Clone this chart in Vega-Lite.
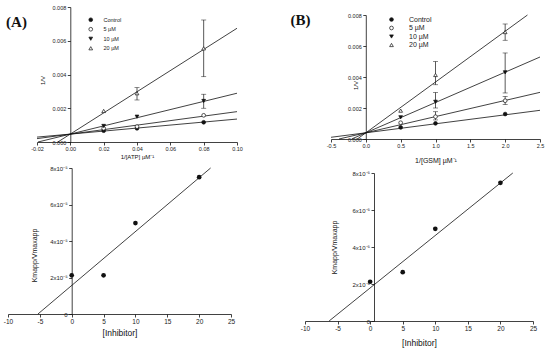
{
  "$schema": "https://vega.github.io/schema/vega-lite/v6.json",
  "width": 550,
  "height": 350,
  "padding": 0,
  "autosize": {"type": "none"},
  "background": "white",
  "config": {
    "view": {"stroke": null},
    "axis": {"grid": false, "domainColor": "#111", "tickColor": "#111", "domainWidth": 0.8, "tickWidth": 0.8, "tickSize": 3, "labelFont": "Liberation Sans", "titleFont": "Liberation Sans", "labelColor": "#222", "titleColor": "#111", "titleFontWeight": "normal", "labelPadding": 1.5, "labelFlush": false, "labelOverlap": false, "labelBound": false},
    "legend": {"labelFont": "Liberation Sans", "labelColor": "#222", "padding": 0}
  },
  "datasets": {
    "atp_points": [
      {"group": "Control", "x": 0.02, "y": 0.00067}, {"group": "Control", "x": 0.04, "y": 0.00081}, {"group": "Control", "x": 0.08, "y": 0.00117},
      {"group": "5 µM", "x": 0.02, "y": 0.00081}, {"group": "5 µM", "x": 0.04, "y": 0.00091}, {"group": "5 µM", "x": 0.08, "y": 0.00158},
      {"group": "10 µM", "x": 0.02, "y": 0.00095}, {"group": "10 µM", "x": 0.04, "y": 0.0015}, {"group": "10 µM", "x": 0.08, "y": 0.00243},
      {"group": "20 µM", "x": 0.02, "y": 0.00184}, {"group": "20 µM", "x": 0.04, "y": 0.00289}, {"group": "20 µM", "x": 0.08, "y": 0.00555}
    ],
    "atp_lines": [
      {"group": "Control", "x": -0.02, "y": 0.00029}, {"group": "Control", "x": 0.10, "y": 0.00136},
      {"group": "5 µM", "x": -0.02, "y": 0.0002}, {"group": "5 µM", "x": 0.10, "y": 0.0018},
      {"group": "10 µM", "x": -0.0194, "y": 0}, {"group": "10 µM", "x": 0.10, "y": 0.00289},
      {"group": "20 µM", "x": -0.0075, "y": 0}, {"group": "20 µM", "x": 0.10, "y": 0.00674}
    ],
    "atp_err": [
      {"group": "20 µM", "x": 0.04, "lo": 0.00249, "hi": 0.00322},
      {"group": "20 µM", "x": 0.08, "lo": 0.00387, "hi": 0.00723},
      {"group": "10 µM", "x": 0.08, "lo": 0.0020, "hi": 0.00283}
    ],
    "gsm_points": [
      {"group": "Control", "x": 0.5, "y": 0.00075}, {"group": "Control", "x": 1.0, "y": 0.00101}, {"group": "Control", "x": 2.0, "y": 0.00161},
      {"group": "5 µM", "x": 0.5, "y": 0.00105}, {"group": "5 µM", "x": 1.0, "y": 0.00144}, {"group": "5 µM", "x": 2.0, "y": 0.00247},
      {"group": "10 µM", "x": 0.5, "y": 0.0014}, {"group": "10 µM", "x": 1.0, "y": 0.0024}, {"group": "10 µM", "x": 2.0, "y": 0.0043},
      {"group": "20 µM", "x": 0.5, "y": 0.00183}, {"group": "20 µM", "x": 1.0, "y": 0.00413}, {"group": "20 µM", "x": 2.0, "y": 0.0069}
    ],
    "gsm_lines": [
      {"group": "Control", "x": -0.5, "y": 0.00011}, {"group": "Control", "x": 2.5, "y": 0.00185},
      {"group": "5 µM", "x": -0.385, "y": 0}, {"group": "5 µM", "x": 2.5, "y": 0.00301},
      {"group": "10 µM", "x": -0.204, "y": 0}, {"group": "10 µM", "x": 2.5, "y": 0.00529},
      {"group": "20 µM", "x": -0.122, "y": 0}, {"group": "20 µM", "x": 2.32, "y": 0.008}
    ],
    "gsm_err": [
      {"group": "20 µM", "x": 1.0, "lo": 0.0035, "hi": 0.0050},
      {"group": "10 µM", "x": 1.0, "lo": 0.0020, "hi": 0.0030},
      {"group": "5 µM", "x": 1.0, "lo": 0.00123, "hi": 0.00176},
      {"group": "20 µM", "x": 2.0, "lo": 0.00637, "hi": 0.00742},
      {"group": "10 µM", "x": 2.0, "lo": 0.00297, "hi": 0.00555},
      {"group": "5 µM", "x": 2.0, "lo": 0.00222, "hi": 0.00275}
    ],
    "inhA_points": [
      {"x": 0, "y": 2.12e-5}, {"x": 5, "y": 2.12e-5}, {"x": 10, "y": 4.98e-5}, {"x": 20, "y": 7.5e-5}
    ],
    "inhA_line": [
      {"x": -5.3, "y": 0}, {"x": 21.8, "y": 8e-5}
    ],
    "inhB_points": [
      {"x": 0, "y": 2.12e-5}, {"x": 5, "y": 2.64e-5}, {"x": 10, "y": 4.98e-5}, {"x": 20, "y": 7.47e-5}
    ],
    "inhB_line": [
      {"x": -6.3, "y": 0}, {"x": 21.9, "y": 8e-5}
    ]
  },
  "layer": [
    {
      "layer": [
        {
          "data": {"name": "atp_lines"},
          "mark": {"type": "line", "color": "#111", "strokeWidth": 0.8},
          "encoding": {
            "x": {"field": "x", "type": "quantitative", "title": "1/[ATP] µM⁻¹",
              "scale": {"domain": [-0.02, 0.10], "range": [37, 237], "nice": false, "zero": false},
              "axis": {"orient": "bottom", "offset": -208, "values": [-0.02, 0, 0.02, 0.04, 0.06, 0.08, 0.1], "labelExpr": "(datum.value < -1e-9 ? '-' : '') + format(abs(datum.value), '.2f')", "labelFontSize": 5.5, "titleFontSize": 6, "titlePadding": 1}},
            "y": {"field": "y", "type": "quantitative", "title": "1/V",
              "scale": {"domain": [0, 0.008], "range": [142, 7], "nice": false, "zero": false},
              "axis": {"orient": "left", "offset": -70.3, "values": [0, 0.002, 0.004, 0.006, 0.008], "format": ".3f", "labelFontSize": 5.5, "titleFontSize": 6, "titleBaseline": "middle", "titleX": -27.6, "titleY": 80}},
            "detail": {"field": "group"}
          }
        },
        {
          "data": {"name": "atp_err"},
          "mark": {"type": "rule", "color": "#111", "strokeWidth": 0.7},
          "encoding": {
            "x": {"field": "x", "type": "quantitative", "title": "1/[ATP] µM⁻¹"},
            "y": {"field": "lo", "type": "quantitative", "title": "1/V"},
            "y2": {"field": "hi"}
          }
        },
        {
          "data": {"name": "atp_err"},
          "mark": {"type": "tick", "orient": "horizontal", "color": "#111", "size": 5, "thickness": 0.7},
          "encoding": {
            "x": {"field": "x", "type": "quantitative", "title": "1/[ATP] µM⁻¹"},
            "y": {"field": "lo", "type": "quantitative", "title": "1/V"}
          }
        },
        {
          "data": {"name": "atp_err"},
          "mark": {"type": "tick", "orient": "horizontal", "color": "#111", "size": 5, "thickness": 0.7},
          "encoding": {
            "x": {"field": "x", "type": "quantitative", "title": "1/[ATP] µM⁻¹"},
            "y": {"field": "hi", "type": "quantitative", "title": "1/V"}
          }
        },
        {
          "data": {"name": "atp_points"},
          "mark": {"type": "point", "strokeWidth": 0.7, "size": 14, "opacity": 1},
          "encoding": {
            "x": {"field": "x", "type": "quantitative", "title": "1/[ATP] µM⁻¹"},
            "y": {"field": "y", "type": "quantitative", "title": "1/V"},
            "shape": {"field": "group", "type": "nominal",
              "scale": {"domain": ["Control", "5 µM", "10 µM", "20 µM"], "range": ["circle", "circle", "triangle-down", "triangle-up"]},
              "legend": {"orient": "none", "legendX": 88, "legendY": 17, "title": null, "labelFontSize": 5.5, "symbolSize": 14, "labelOffset": 10, "rowPadding": 1.5, "symbolStrokeWidth": 0.7, "labelColor": "#222"}},
            "fill": {"field": "group", "type": "nominal",
              "scale": {"domain": ["Control", "5 µM", "10 µM", "20 µM"], "range": ["#111", "white", "#111", "white"]},
              "legend": {"orient": "none", "legendX": 88, "legendY": 17, "title": null, "labelFontSize": 5.5, "symbolSize": 14, "labelOffset": 10, "rowPadding": 1.5, "symbolStrokeWidth": 0.7, "labelColor": "#222"}},
            "stroke": {"field": "group", "type": "nominal",
              "scale": {"domain": ["Control", "5 µM", "10 µM", "20 µM"], "range": ["#111", "#111", "#111", "#111"]},
              "legend": {"orient": "none", "legendX": 88, "legendY": 17, "title": null, "labelFontSize": 5.5, "symbolSize": 14, "labelOffset": 10, "rowPadding": 1.5, "symbolStrokeWidth": 0.7, "labelColor": "#222"}}
          }
        },
        {
          "data": {"values": [{"t": "(A)"}]},
          "mark": {"type": "text", "font": "Liberation Serif", "fontWeight": "bold", "fontSize": 15, "color": "#111", "align": "center", "baseline": "middle"},
          "encoding": {
            "x": {"datum": -0.0323, "type": "quantitative"},
            "y": {"datum": 0.00713, "type": "quantitative"},
            "text": {"field": "t"}
          }
        }
      ]
    },
    {
      "layer": [
        {
          "data": {"name": "gsm_lines"},
          "mark": {"type": "line", "color": "#111", "strokeWidth": 0.8},
          "encoding": {
            "x": {"field": "x", "type": "quantitative", "title": "1/[GSM] µM⁻¹",
              "scale": {"domain": [-0.5, 2.5], "range": [331, 540], "nice": false, "zero": false},
              "axis": {"orient": "bottom", "offset": -211, "values": [-0.5, 0, 0.5, 1, 1.5, 2, 2.5], "labelExpr": "(datum.value < -1e-9 ? '-' : '') + format(abs(datum.value), '.1f')", "labelFontSize": 5.5, "titleFontSize": 7, "titlePadding": 7}},
            "y": {"field": "y", "type": "quantitative", "title": "1/V",
              "scale": {"domain": [0, 0.008], "range": [139, 15], "nice": false, "zero": false},
              "axis": {"orient": "left", "offset": -365.8, "values": [0, 0.002, 0.004, 0.006, 0.008], "format": ".3f", "labelFontSize": 5.5, "titleFontSize": 6, "titleBaseline": "middle", "titleX": -10, "titleY": 85}},
            "detail": {"field": "group"}
          }
        },
        {
          "data": {"name": "gsm_err"},
          "mark": {"type": "rule", "color": "#111", "strokeWidth": 0.7},
          "encoding": {
            "x": {"field": "x", "type": "quantitative", "title": "1/[GSM] µM⁻¹"},
            "y": {"field": "lo", "type": "quantitative", "title": "1/V"},
            "y2": {"field": "hi"}
          }
        },
        {
          "data": {"name": "gsm_err"},
          "mark": {"type": "tick", "orient": "horizontal", "color": "#111", "size": 5, "thickness": 0.7},
          "encoding": {
            "x": {"field": "x", "type": "quantitative", "title": "1/[GSM] µM⁻¹"},
            "y": {"field": "lo", "type": "quantitative", "title": "1/V"}
          }
        },
        {
          "data": {"name": "gsm_err"},
          "mark": {"type": "tick", "orient": "horizontal", "color": "#111", "size": 5, "thickness": 0.7},
          "encoding": {
            "x": {"field": "x", "type": "quantitative", "title": "1/[GSM] µM⁻¹"},
            "y": {"field": "hi", "type": "quantitative", "title": "1/V"}
          }
        },
        {
          "data": {"name": "gsm_points"},
          "mark": {"type": "point", "strokeWidth": 0.7, "size": 14, "opacity": 1},
          "encoding": {
            "x": {"field": "x", "type": "quantitative", "title": "1/[GSM] µM⁻¹"},
            "y": {"field": "y", "type": "quantitative", "title": "1/V"},
            "shape": {"field": "group", "type": "nominal",
              "scale": {"domain": ["Control", "5 µM", "10 µM", "20 µM"], "range": ["circle", "circle", "triangle-down", "triangle-up"]},
              "legend": {"orient": "none", "legendX": 388, "legendY": 16, "title": null, "labelFontSize": 7, "symbolSize": 14, "labelOffset": 14, "rowPadding": 0.5, "symbolStrokeWidth": 0.7, "labelColor": "#222"}},
            "fill": {"field": "group", "type": "nominal",
              "scale": {"domain": ["Control", "5 µM", "10 µM", "20 µM"], "range": ["#111", "white", "#111", "white"]},
              "legend": {"orient": "none", "legendX": 388, "legendY": 16, "title": null, "labelFontSize": 7, "symbolSize": 14, "labelOffset": 14, "rowPadding": 0.5, "symbolStrokeWidth": 0.7, "labelColor": "#222"}},
            "stroke": {"field": "group", "type": "nominal",
              "scale": {"domain": ["Control", "5 µM", "10 µM", "20 µM"], "range": ["#111", "#111", "#111", "#111"]},
              "legend": {"orient": "none", "legendX": 388, "legendY": 16, "title": null, "labelFontSize": 7, "symbolSize": 14, "labelOffset": 14, "rowPadding": 0.5, "symbolStrokeWidth": 0.7, "labelColor": "#222"}}
          }
        },
        {
          "data": {"values": [{"t": "(B)"}]},
          "mark": {"type": "text", "font": "Liberation Serif", "fontWeight": "bold", "fontSize": 15, "color": "#111", "align": "center", "baseline": "middle"},
          "encoding": {
            "x": {"datum": -0.938, "type": "quantitative"},
            "y": {"datum": 0.00768, "type": "quantitative"},
            "text": {"field": "t"}
          }
        }
      ]
    },
    {
      "layer": [
        {
          "data": {"name": "inhA_line"},
          "mark": {"type": "line", "color": "#111", "strokeWidth": 0.8},
          "encoding": {
            "x": {"field": "x", "type": "quantitative", "title": "[Inhibitor]",
              "scale": {"domain": [-10, 25], "range": [8, 231], "nice": false, "zero": false},
              "axis": {"orient": "bottom", "offset": -36, "values": [-10, -5, 0, 5, 10, 15, 20, 25], "labelExpr": "(datum.value < 0 ? '-' : '') + format(abs(datum.value), 'd')", "labelFontSize": 6.5, "titleFontSize": 8.5, "titlePadding": 3}},
            "y": {"field": "y", "type": "quantitative", "title": "Kmapp/Vmaxapp",
              "scale": {"domain": [0, 8e-5], "range": [314, 168], "nice": false, "zero": false},
              "axis": {"orient": "left", "offset": -71.7, "values": [0, 2e-5, 4e-5, 6e-5, 8e-5], "labelExpr": "datum.value == 0 ? '0' : format(datum.value * 1e5, 'd') + 'x10⁻⁵'", "labelFontSize": 6, "titleFontSize": 7, "titleBaseline": "middle", "titleX": -36.7, "titleY": 255}}
          }
        },
        {
          "data": {"name": "inhA_points"},
          "mark": {"type": "point", "filled": true, "color": "#111", "size": 22, "opacity": 1},
          "encoding": {
            "x": {"field": "x", "type": "quantitative", "title": "[Inhibitor]"},
            "y": {"field": "y", "type": "quantitative", "title": "Kmapp/Vmaxapp"}
          }
        }
      ]
    },
    {
      "layer": [
        {
          "data": {"name": "inhB_line"},
          "mark": {"type": "line", "color": "#111", "strokeWidth": 0.8},
          "encoding": {
            "x": {"field": "x", "type": "quantitative", "title": "[Inhibitor]",
              "scale": {"domain": [-10, 25], "range": [305, 533], "nice": false, "zero": false},
              "axis": {"orient": "bottom", "offset": -29, "values": [-10, -5, 0, 5, 10, 15, 20, 25], "labelExpr": "(datum.value < 0 ? '-' : '') + format(abs(datum.value), 'd')", "labelFontSize": 6.5, "titleFontSize": 8.5, "titlePadding": 6}},
            "y": {"field": "y", "type": "quantitative", "title": "Kmapp/Vmaxapp",
              "scale": {"domain": [0, 8e-5], "range": [321, 173], "nice": false, "zero": false},
              "axis": {"orient": "left", "offset": -374, "values": [0, 2e-5, 4e-5, 6e-5, 8e-5], "labelExpr": "datum.value == 0 ? '0' : format(datum.value * 1e5, 'd') + 'x10⁻⁵'", "labelFontSize": 6, "titleFontSize": 7, "titleBaseline": "middle", "titleX": -40, "titleY": 247}}
          }
        },
        {
          "data": {"name": "inhB_points"},
          "mark": {"type": "point", "filled": true, "color": "#111", "size": 22, "opacity": 1},
          "encoding": {
            "x": {"field": "x", "type": "quantitative", "title": "[Inhibitor]"},
            "y": {"field": "y", "type": "quantitative", "title": "Kmapp/Vmaxapp"}
          }
        }
      ]
    }
  ],
  "resolve": {"scale": {"x": "independent", "y": "independent", "shape": "independent", "fill": "independent", "stroke": "independent"}}
}
